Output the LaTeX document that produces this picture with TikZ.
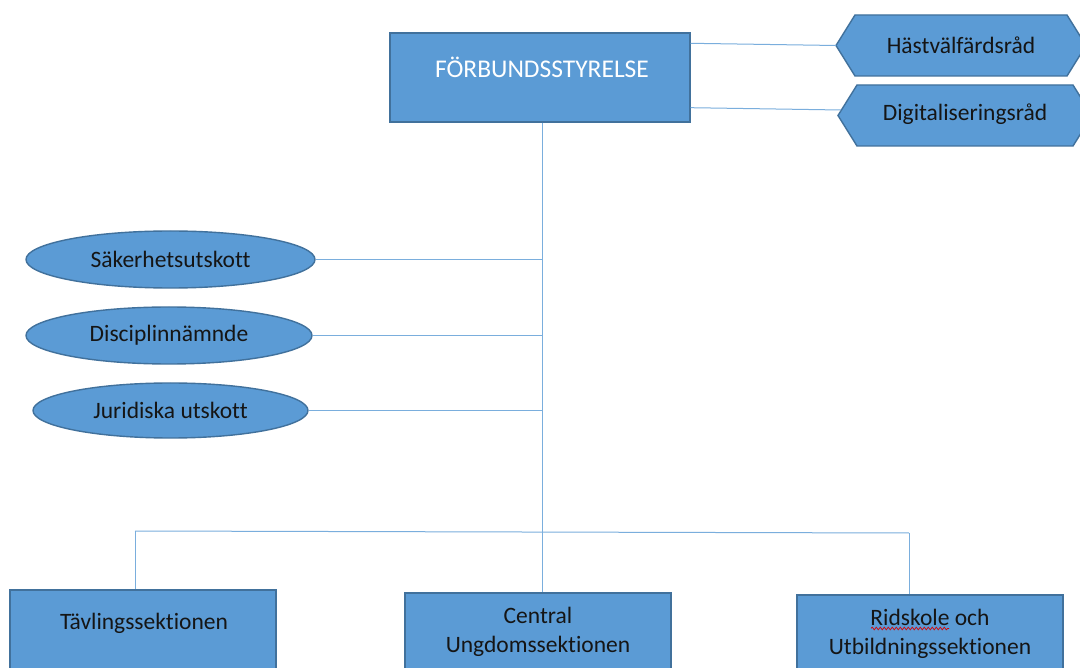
\documentclass[tikz,border=0pt]{standalone}
\usepackage{fontspec}
\setmainfont{Carlito}[Ligatures=CommonOff]
\usetikzlibrary{shapes.geometric,decorations.pathmorphing}
\definecolor{boxfill}{HTML}{5B9BD5}
\definecolor{boxline}{HTML}{41719C}
\definecolor{conn}{HTML}{7AAEDD}
\definecolor{txt}{HTML}{151515}
\begin{document}
\begin{tikzpicture}[x=1pt,y=-1pt,
  box/.style={draw=boxline, fill=boxfill, line width=1.4pt, rectangle, inner sep=0pt},
  oval/.style={draw=boxline, fill=boxfill, line width=1.4pt, ellipse, inner sep=0pt, text=txt, font=\fontsize{23.5}{28}\selectfont},
  hexs/.style={draw=boxline, fill=boxfill, line width=1.4pt},
  lbl/.style={text=txt, align=center, inner sep=0pt, font=\fontsize{23.5}{29}\selectfont},
  conline/.style={draw=conn, line width=1pt}]
\useasboundingbox (0,0) rectangle (1080,668);
\clip (0,0) rectangle (1080,668);
\fill[white] (0,0) rectangle (1080,668);

% main board
\node[box, minimum width=300pt, minimum height=89pt] (main) at (540,77.5) {};
\node[lbl, text=white, font=\fontsize{25.5}{30}\selectfont] (mainT) at (542,67.5) {FÖRBUNDSSTYRELSE};

% councils (right)
\draw[hexs] (836,45.5) -- (855,15) -- (1067,15) -- (1086,45.5) -- (1067,76) -- (855,76) -- cycle;
\coordinate (hastW) at (836,45.5);
\node[lbl] (hast) at (961,45) {Hästvälfärdsråd};
\draw[hexs] (838,115.5) -- (857,85) -- (1073,85) -- (1092,115.5) -- (1073,146) -- (857,146) -- cycle;
\coordinate (digW) at (841,110);
\node[lbl] (dig) at (965,114) {Digitaliseringsråd};

% committees (left)
\node[oval, minimum width=289pt, minimum height=57pt] (sak) at (170.5,259.5) {Säkerhetsutskott};
\node[oval, minimum width=286pt, minimum height=57pt] (dis) at (169,335.5) {Disciplinnämnde};
\node[oval, minimum width=275pt, minimum height=55pt] (jur) at (170.5,410.5) {Juridiska utskott};

% sections (bottom)
\node[box, minimum width=266pt, minimum height=110pt] (tav) at (143,645) {};
\node[lbl] (tavT) at (144,623.5) {Tävlingssektionen};
\node[box, minimum width=266pt, minimum height=107pt] (cen) at (538,646.5) {};
\node[lbl] (cenT) at (538,632) {Central\\Ungdomssektionen};
\node[box, minimum width=266pt, minimum height=105pt] (rid) at (930,647.5) {};
\node[lbl] (ridT) at (930,634) {Ridskole och\\Utbildningssektionen};
\coordinate (sqA) at (871,628.5);
\coordinate (sqB) at (949,628.5);
\draw[red!85!black, line width=0.7pt, decorate, decoration={snake, segment length=4pt, amplitude=1.3pt}] (sqA) -- (sqB);

% connectors
\coordinate (J) at (542,531);
\coordinate (bl) at (135,531);
\coordinate (br) at (909,533);
\draw[conline] ([yshift=-11pt]main.north east) -- (hastW);
\draw[conline] ([yshift=15pt]main.south east) -- (digW);
\draw[conline] (main.south -| J) -- (cen.north -| J);
\draw[conline] (sak.east) -- (sak.east -| J);
\draw[conline] (dis.east) -- (dis.east -| J);
\draw[conline] (jur.east) -- (jur.east -| J);
\draw[conline] (bl) -- (br);
\draw[conline] (bl) -- (bl |- tav.north);
\draw[conline] (br) -- (br |- rid.north);
\end{tikzpicture}
\end{document}
